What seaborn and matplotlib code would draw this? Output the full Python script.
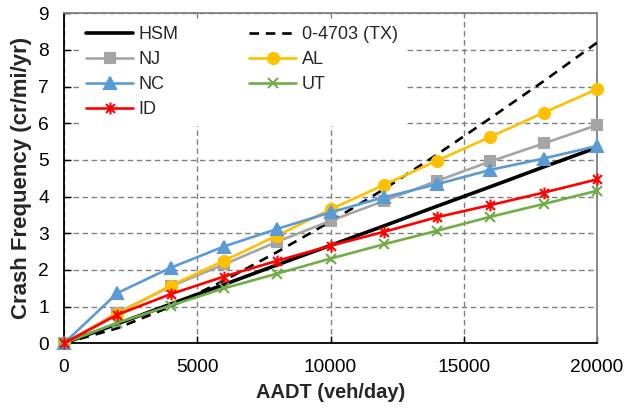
import matplotlib
matplotlib.use("Agg")
import matplotlib.pyplot as plt
from matplotlib.path import Path
import seaborn as sns

aadt = [0, 2000, 4000, 6000, 8000, 10000, 12000, 14000, 16000, 18000, 20000]
hsm = [0, 0.53, 1.07, 1.60, 2.14, 2.67, 3.20, 3.74, 4.27, 4.81, 5.34]
tx = [0, 0.41, 1.00, 1.71, 2.49, 3.32, 4.20, 5.15, 6.14, 7.15, 8.20]
nj = [0, 0.83, 1.55, 2.15, 2.77, 3.34, 3.88, 4.43, 4.96, 5.45, 5.95]
al = [0, 0.80, 1.57, 2.25, 2.94, 3.65, 4.32, 4.98, 5.63, 6.29, 6.93]
nc = [0, 1.37, 2.06, 2.64, 3.12, 3.57, 3.98, 4.34, 4.73, 5.04, 5.38]
ut = [0, 0.56, 1.03, 1.50, 1.90, 2.31, 2.70, 3.07, 3.45, 3.80, 4.16]
id_ = [0, 0.78, 1.34, 1.82, 2.25, 2.66, 3.04, 3.44, 3.77, 4.11, 4.47]
names = ["HSM", "0-4703 (TX)", "NJ", "AL", "NC", "UT", "ID"]

sns.set_theme(style="white")
plt.rcParams['font.family'] = ['Liberation Sans', 'DejaVu Sans']

# Excel-style star marker: an X plus a vertical bar
star = Path([(0, -1), (0, 1), (-0.75, -0.75), (0.75, 0.75), (-0.75, 0.75), (0.75, -0.75)],
            [Path.MOVETO, Path.LINETO, Path.MOVETO, Path.LINETO, Path.MOVETO, Path.LINETO])

fig = plt.figure(figsize=(6.27, 4.15), dpi=100)
ax = fig.add_axes([64/627, 1-343.3/415, (597-64)/627, (343.3-13.3)/415])

styles = {
    "HSM": dict(color="black", lw=2.6, marker="None", ms=0, ls="-"),
    "0-4703 (TX)": dict(color="black", lw=1.9, marker="None", ms=0, ls=(0, (3.6, 2.6))),
    "NJ": dict(color="#A5A5A5", lw=1.9, marker="s", ms=7.2, ls="-"),
    "AL": dict(color="#FFC000", lw=1.9, marker="o", ms=8, ls="-"),
    "NC": dict(color="#5B9BD5", lw=1.9, marker="^", ms=8.5, ls="-"),
    "UT": dict(color="#70AD47", lw=1.9, marker="x", ms=7, ls="-"),
    "ID": dict(color="#FF0000", lw=1.9, marker=star, ms=8.5, ls="-"),
}
data = [hsm, tx, nj, al, nc, ut, id_]
handles = {}
for i, (name, vals) in enumerate(zip(names, data)):
    st = styles[name]
    sns.lineplot(x=aadt, y=vals, ax=ax, color=st["color"], linewidth=st["lw"],
                 label=name, legend=False)
    ln = ax.get_lines()[-1]
    ln.set_linestyle(st["ls"])
    ln.set_marker(st["marker"])
    ln.set_markersize(st["ms"])
    ln.set_markerfacecolor(st["color"])
    ln.set_markeredgecolor(st["color"])
    ln.set_markeredgewidth(1.5)
    ln.set_clip_on(False)
    ln.set_zorder(3 + i)
    handles[name] = ln

ax.set_xlim(0, 20000)
ax.set_ylim(0, 9)
ax.set_xticks([0, 5000, 10000, 15000, 20000])
ax.set_yticks(range(0, 10))
ax.grid(True, color="#808080", linestyle=(0, (4, 2.5)), linewidth=1.0)
ax.set_axisbelow(True)
for s in ["left", "bottom"]:
    ax.spines[s].set_color("black")
    ax.spines[s].set_linewidth(1.3)
for s in ["top", "right"]:
    ax.spines[s].set_color("#808080")
    ax.spines[s].set_linewidth(1.3)
ax.tick_params(axis="both", direction="in", length=5, width=1, colors="black",
               labelsize=13.8, left=True, bottom=True)
ax.tick_params(axis="x", pad=11)
ax.tick_params(axis="y", pad=11)
ax.set_xlabel("AADT (veh/day)", fontsize=14.4, fontweight="bold", labelpad=5)
ax.set_ylabel("Crash Frequency (cr/mi/yr)", fontsize=16, fontweight="bold", labelpad=4)

order = ["HSM", "NJ", "NC", "ID", "0-4703 (TX)", "AL", "UT"]
leg = ax.legend([handles[n] for n in order], order, ncol=2, loc="upper left",
                bbox_to_anchor=(0.0278, 0.982), borderaxespad=0, fontsize=13,
                handlelength=2.6, handletextpad=0.32, columnspacing=3.9,
                labelspacing=0.44, frameon=True, framealpha=1,
                facecolor="white", edgecolor="none", borderpad=0.4)
leg.set_zorder(20)

fig.savefig("out.png", dpi=100)
